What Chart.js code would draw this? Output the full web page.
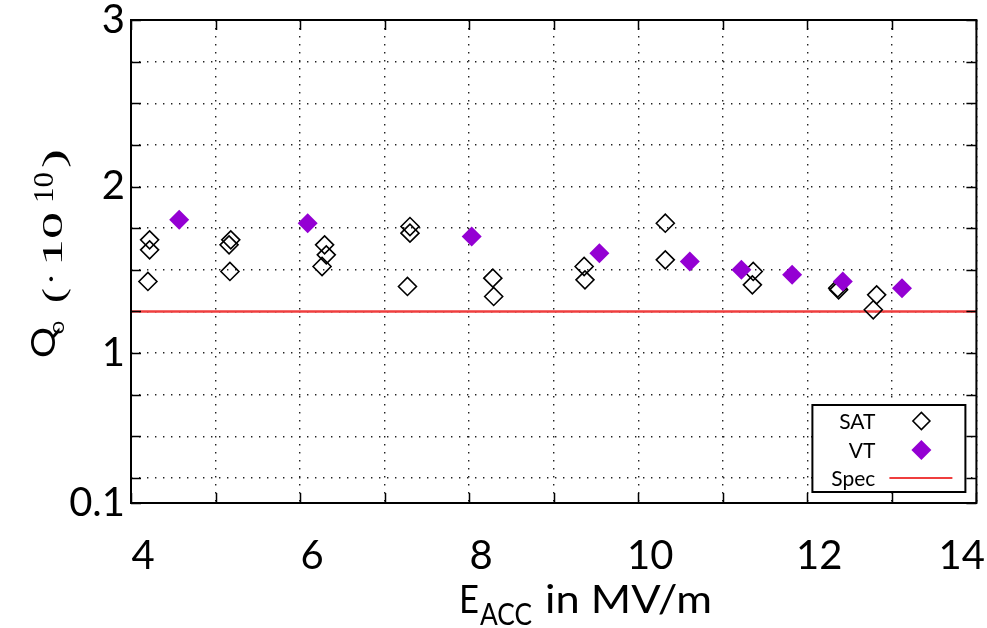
<!DOCTYPE html>
<html>
<head>
<meta charset="utf-8">
<script src="https://cdn.jsdelivr.net/npm/chart.js@4"></script>
<style>
  html, body { margin: 0; padding: 0; background: #fff; }
  #wrap { width: 987px; height: 628px; position: relative; }
</style>
</head>
<body>
<div id="wrap"><canvas id="chart"></canvas></div>
<script>
// SAT measurements (E_acc in MV/m, Q0 in 1e10)
const satE = [4.22, 4.22, 4.20, 5.18, 5.16, 5.17, 6.29, 6.31, 6.26, 7.30, 7.30, 7.27, 8.28, 8.29,
              9.36, 9.37, 10.32, 10.32, 11.36, 11.35, 12.36, 12.37, 12.82, 12.78];
const satQ = [1.68, 1.62, 1.43, 1.68, 1.65, 1.49, 1.65, 1.59, 1.52, 1.76, 1.72, 1.40, 1.45, 1.34,
              1.52, 1.44, 1.78, 1.56, 1.49, 1.41, 1.39, 1.38, 1.35, 1.26];

// VT measurements
const vtE = [4.57, 6.09, 8.03, 9.54, 10.61, 11.22, 11.82, 12.42, 13.12];
const vtQ = [1.80, 1.78, 1.70, 1.60, 1.55, 1.50, 1.47, 1.43, 1.39];

// spec limit
const specE = [4, 14];
const specQ = [1.25, 1.25];

// axes
const yTicks = [0.1, 0.25, 0.5, 0.75, 1, 1.25, 1.5, 1.75, 2, 2.25, 2.5, 2.75, 3];
const yLabels = [0.1, 1, 2, 3];
const xLabels = [4, 6, 8, 10, 12, 14];

const VT_COLOR = '#9400d3';
const SPEC_COLOR = '#ef3e3e';

const pts = (xs, ys) => xs.map((x, i) => ({ x: x, y: ys[i] }));

// draw a piece of text, stretched to a given width
function fitText(ctx, txt, font, x, y, w, rot) {
    ctx.save();
    ctx.font = font;
    ctx.translate(x, y);
    if (rot) ctx.rotate(-Math.PI / 2);
    ctx.scale(w / ctx.measureText(txt).width, 1);
    ctx.fillText(txt, 0, 0);
    ctx.restore();
}

function diamond(ctx, cx, cy, r) {
    ctx.beginPath();
    ctx.moveTo(cx - r, cy);
    ctx.lineTo(cx, cy - r);
    ctx.lineTo(cx + r, cy);
    ctx.lineTo(cx, cy + r);
    ctx.closePath();
}

const decor = {
    id: 'decor',
    afterDraw(chart) {
        const { ctx, chartArea: a, scales: { x, y } } = chart;
        ctx.save();

        // inner tick marks on all four sides
        ctx.strokeStyle = '#000';
        ctx.lineWidth = 1.5;
        ctx.beginPath();
        yTicks.forEach(v => {
            const py = Math.round(y.getPixelForValue(v)) + 0.5;
            ctx.moveTo(a.left, py); ctx.lineTo(a.left + 10, py);
            ctx.moveTo(a.right, py); ctx.lineTo(a.right - 10, py);
        });
        x.ticks.forEach(t => {
            const px = Math.round(x.getPixelForValue(t.value)) + 0.5;
            ctx.moveTo(px, a.bottom); ctx.lineTo(px, a.bottom - 10);
            ctx.moveTo(px, a.top); ctx.lineTo(px, a.top + 10);
        });
        ctx.stroke();

        // frame
        ctx.lineWidth = 2;
        ctx.strokeRect(a.left, a.top, a.right - a.left, a.bottom - a.top);

        // x tick labels
        ctx.fillStyle = '#000';
        ctx.font = '40px Lato';
        ctx.textAlign = 'center';
        ctx.textBaseline = 'alphabetic';
        xLabels.forEach(v => {
            const w = ctx.measureText(String(v)).width;
            let cx = x.getPixelForValue(v) + 12;
            if (cx + w / 2 > chart.width - 2) cx = chart.width - 2 - w / 2;
            ctx.fillText(String(v), cx, a.bottom + 66);
        });

        // x title
        ctx.textAlign = 'left';
        fitText(ctx, 'E', '39px Lato', 459, 613, 20);
        fitText(ctx, 'ACC', '31px Lato', 480, 625, 52);
        fitText(ctx, 'in MV/m', '39px Lato', 545, 613, 167);

        // y title (rotated, read upward)
        fitText(ctx, 'Q', '32px Lato', 55, 358, 31, true);
        fitText(ctx, '0', '15px Lato', 64, 334, 13, true);
        fitText(ctx, '(', '32px "Liberation Serif"', 64, 303, 15, true);
        fitText(ctx, '\u00b7', '32px "Liberation Serif"', 62, 285, 12, true);
        fitText(ctx, '10', '29px "Liberation Serif"', 62, 266, 54, true);
        fitText(ctx, '10', '29px "Liberation Serif"', 53, 203, 31, true);
        fitText(ctx, ')', '32px "Liberation Serif"', 64, 168, 19, true);

        // legend box
        const lx = a.right - 164, ly = a.bottom - 98, lw = 153, lh = 87;
        ctx.fillStyle = '#fff';
        ctx.fillRect(lx, ly, lw, lh);
        ctx.lineWidth = 2;
        ctx.strokeStyle = '#000';
        ctx.strokeRect(lx, ly, lw, lh);

        ctx.fillStyle = '#000';
        ctx.font = '21px Lato';
        ctx.textAlign = 'right';
        ctx.textBaseline = 'middle';
        ctx.fillText('SAT', lx + 63, ly + 17);
        ctx.fillText('VT', lx + 63, ly + 46);
        ctx.fillText('Spec', lx + 63, ly + 74);

        ctx.lineWidth = 1.6;
        diamond(ctx, lx + 109, ly + 16, 8.5);
        ctx.stroke();
        ctx.fillStyle = VT_COLOR;
        diamond(ctx, lx + 109, ly + 45, 10);
        ctx.fill();
        ctx.strokeStyle = SPEC_COLOR;
        ctx.lineWidth = 2;
        ctx.beginPath();
        ctx.moveTo(lx + 77, ly + 73);
        ctx.lineTo(lx + 140, ly + 73);
        ctx.stroke();

        ctx.restore();
    }
};

new Chart(document.getElementById('chart'), {
    type: 'scatter',
    data: {
        datasets: [
            {
                label: 'VT',
                data: pts(vtE, vtQ),
                pointStyle: 'rectRot',
                pointRadius: 10,
                pointHoverRadius: 10,
                backgroundColor: VT_COLOR,
                borderColor: VT_COLOR,
                borderWidth: 0
            },
            {
                label: 'SAT',
                data: pts(satE, satQ),
                pointStyle: 'rectRot',
                pointRadius: 9,
                pointHoverRadius: 9,
                backgroundColor: 'rgba(0,0,0,0)',
                borderColor: '#000',
                borderWidth: 1.6
            },
            {
                label: 'Spec',
                data: pts(specE, specQ),
                showLine: true,
                pointRadius: 0,
                borderColor: SPEC_COLOR,
                borderWidth: 2.5
            }
        ]
    },
    options: {
        responsive: true,
        maintainAspectRatio: false,
        animation: false,
        layout: { padding: { top: 20, right: 9, bottom: 0, left: 0 } },
        plugins: { legend: { display: false }, tooltip: { enabled: false } },
        scales: {
            x: {
                type: 'linear',
                min: 4,
                max: 14,
                ticks: { stepSize: 1, display: false },
                grid: { color: '#222', lineWidth: 1.4, drawTicks: false },
                border: { display: false, dash: [1.4, 6.6] },
                afterFit: s => { s.height = 125; s.paddingLeft = 0; s.paddingRight = 0; }
            },
            y: {
                type: 'linear',
                min: 0.1,
                max: 3,
                afterBuildTicks: s => { s.ticks = yTicks.map(v => ({ value: v })); },
                ticks: {
                    color: '#000',
                    autoSkip: false,
                    font: { family: 'Lato', size: 40 },
                    padding: 6,
                    callback: v => yLabels.includes(v) ? String(v) : ''
                },
                grid: { color: '#222', lineWidth: 1.4, drawTicks: false },
                border: { display: false, dash: [1.4, 6.6] },
                afterFit: s => { s.width = 131; s.paddingTop = 0; s.paddingBottom = 0; }
            }
        }
    },
    plugins: [decor]
});
</script>
</body>
</html>
